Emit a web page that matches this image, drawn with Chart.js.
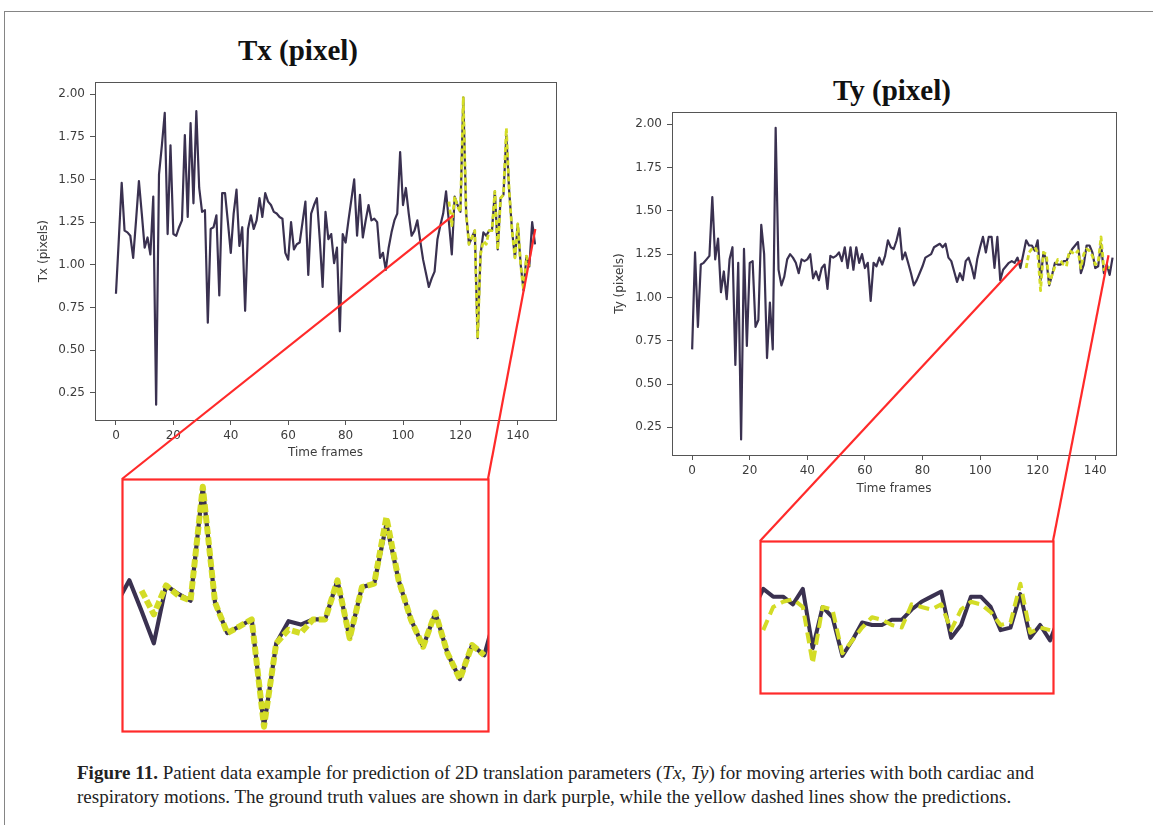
<!DOCTYPE html>
<html>
<head>
<meta charset="utf-8">
<title>Tx / Ty translation</title>
<script src="https://cdn.jsdelivr.net/npm/chart.js@4.4.0/dist/chart.umd.min.js"></script>
<style>
  body { margin:0; width:1153px; height:825px; overflow:hidden; background:#fff; position:relative; }
  .frame { position:absolute; left:4px; top:11px; width:1200px; height:900px; border:1.5px solid #858585; }
  canvas { position:absolute; }
  .ttl { position:absolute; font-family:"Liberation Serif", serif; font-weight:bold; font-size:29px; color:#111; transform:translateX(-50%); white-space:nowrap; line-height:1; }
  .cap { position:absolute; left:77px; top:761px; font-family:"Liberation Serif", serif; font-size:19px; line-height:24px; color:#222; white-space:nowrap; }
</style>
</head>
<body>
<div class="frame"></div>
<div class="ttl" style="left:298px;top:36px">Tx (pixel)</div>
<div class="ttl" style="left:892px;top:76px">Ty (pixel)</div>

<canvas id="txMain" width="560" height="394" style="left:33px;top:70px"></canvas>
<canvas id="tyMain" width="540" height="400" style="left:609px;top:100px"></canvas>
<canvas id="txZoom" width="374" height="260" style="left:118px;top:475px"></canvas>
<canvas id="tyZoom" width="301" height="160" style="left:756px;top:537px"></canvas>
<canvas id="links" width="1153" height="825" style="left:0;top:0;z-index:5;pointer-events:none"></canvas>

<div class="cap"><b>Figure 11.</b> Patient data example for prediction of 2D translation parameters (<i>Tx</i>, <i>Ty</i>) for moving arteries with both cardiac and<br>respiratory motions. The ground truth values are shown in dark purple, while the yellow dashed lines show the predictions.</div>

<script>
// ground truth, one value per frame (0..146)
var txTruth = [
  0.83, 1.15, 1.48, 1.20, 1.19, 1.17, 1.04, 1.26, 1.49, 1.30,
  1.10, 1.16, 1.06, 1.40, 0.18, 1.53, 1.70, 1.89, 1.18, 1.70,
  1.18, 1.17, 1.22, 1.26, 1.76, 1.28, 1.83, 1.36, 1.90, 1.45,
  1.31, 1.32, 0.66, 1.21, 1.22, 1.29, 0.82, 1.42, 1.42, 1.25,
  1.07, 1.30, 1.44, 1.11, 1.22, 0.73, 1.21, 1.29, 1.21, 1.26,
  1.39, 1.28, 1.42, 1.37, 1.35, 1.31, 1.30, 1.28, 1.27, 1.07,
  1.03, 1.25, 1.09, 1.12, 1.13, 1.25, 1.37, 0.94, 1.30, 1.35,
  1.39, 1.15, 0.87, 1.31, 1.15, 1.18, 1.01, 1.10, 0.61, 1.18,
  1.13, 1.26, 1.38, 1.50, 1.17, 1.41, 1.16, 1.26, 1.35, 1.26,
  1.27, 1.25, 1.04, 1.07, 0.97, 1.10, 1.19, 1.26, 1.30, 1.66,
  1.35, 1.45, 1.30, 1.17, 1.20, 1.26, 1.14, 1.03, 0.95, 0.87,
  0.92, 0.96, 1.15, 1.23, 1.30, 1.43, 1.25, 1.06, 1.40, 1.35,
  1.31, 1.98, 1.30, 1.12, 1.16, 1.20, 0.57, 1.06, 1.19, 1.17,
  1.20, 1.20, 1.43, 1.09, 1.39, 1.41, 1.76, 1.43, 1.20, 1.04,
  1.24, 1.00, 0.85, 1.05, 0.99, 1.25, 1.12
];
var tyTruth = [
  0.70, 1.26, 0.83, 1.19, 1.20, 1.22, 1.24, 1.58, 1.22, 1.34,
  1.03, 1.15, 0.99, 1.22, 1.29, 0.61, 1.20, 0.18, 1.28, 0.72,
  1.20, 1.21, 0.83, 0.87, 1.42, 1.25, 0.65, 0.97, 0.70, 1.98,
  1.16, 1.07, 1.12, 1.22, 1.25, 1.23, 1.20, 1.14, 1.22, 1.21,
  1.22, 1.25, 1.11, 1.15, 1.10, 1.17, 1.19, 1.05, 1.24, 1.23,
  1.24, 1.26, 1.21, 1.29, 1.17, 1.29, 1.16, 1.29, 1.20, 1.25,
  1.17, 1.20, 0.98, 1.20, 1.18, 1.23, 1.19, 1.24, 1.33, 1.29,
  1.28, 1.33, 1.40, 1.22, 1.26, 1.20, 1.14, 1.07, 1.10, 1.14,
  1.18, 1.23, 1.24, 1.25, 1.29, 1.30, 1.31, 1.29, 1.31, 1.23,
  1.21, 1.15, 1.09, 1.14, 1.10, 1.21, 1.23, 1.18, 1.11, 1.22,
  1.29, 1.35, 1.26, 1.35, 1.35, 1.17, 1.35, 1.10, 1.16, 1.18,
  1.20, 1.21, 1.20, 1.23, 1.17, 1.25, 1.33, 1.30, 1.30, 1.27,
  1.33, 1.10, 1.26, 1.22, 1.07, 1.13, 1.20, 1.19, 1.19, 1.21,
  1.21, 1.25, 1.28, 1.30, 1.32, 1.14, 1.19, 1.30, 1.30, 1.26,
  1.17, 1.18, 1.31, 1.14, 1.19, 1.13, 1.23
];

// network predictions, starting at frame predStart
var predStart = 116;
var txPred = [
  1.37, 1.23, 1.40, 1.34, 1.31, 1.98, 1.30, 1.12, 1.16, 1.20,
  0.57, 1.06, 1.14, 1.12, 1.20, 1.20, 1.43, 1.09, 1.39, 1.41,
  1.80, 1.43, 1.20, 1.04, 1.24, 1.00, 0.85, 1.05, 0.99
];
var tyPred = [
  1.17, 1.26, 1.28, 1.29, 1.26, 1.04, 1.26, 1.25, 1.08, 1.13,
  1.18, 1.22, 1.21, 1.19, 1.18, 1.27, 1.26, 1.25, 1.27, 1.17,
  1.25, 1.28, 1.27, 1.24, 1.19, 1.20, 1.35, 1.16, 1.18, 1.17
];

var xTicks = [0, 20, 40, 60, 80, 100, 120, 140];
var yTicks = [0.25, 0.50, 0.75, 1.00, 1.25, 1.50, 1.75, 2.00];

// zoomed windows: frame range and value range
var txWin = { x: [114.4, 144.3], y: [0.545, 2.025] };
var tyWin = { x: [115.67, 145.3], y: [0.926, 1.516] };
// where the red leader lines land on the main plots (frame, value)
var txAnchors = [[117.5, 1.29], [146.1, 1.21]];
var tyAnchors = [[114.2, 1.215], [144.6, 1.244]];

var PURPLE = '#3a3150';
var YELLOW = '#d3dc26';
var RED = '#ff2a2a';
var AXIS = '#555';

function pts(vals, start) {
  return vals.map(function(v, i){ return { x: start + i, y: v }; });
}

// draws a rectangle round the plotting area
function boxPlugin(color, width) {
  return {
    id: 'box',
    afterDraw: function(chart) {
      var a = chart.chartArea, ctx = chart.ctx;
      ctx.save();
      ctx.strokeStyle = color;
      ctx.lineWidth = width;
      ctx.strokeRect(Math.round(a.left) + 0.5, Math.round(a.top) + 0.5,
                     Math.round(a.right - a.left), Math.round(a.bottom - a.top));
      ctx.restore();
    }
  };
}

var tickFont = { family: 'DejaVu Sans', size: 12 };

function mainChart(id, truth, pred, yLabel, xRange, axisW, axisH, pad) {
  return new Chart(document.getElementById(id), {
    type: 'line',
    data: {
      datasets: [
        { data: pts(pred, predStart), borderColor: YELLOW, borderWidth: 2.8, borderDash: [5, 3], order: 0 },
        { data: pts(truth, 0), borderColor: PURPLE, borderWidth: 2.2, order: 1 }
      ]
    },
    options: {
      responsive: false,
      animation: false,
      layout: { padding: pad },
      elements: { point: { radius: 0 }, line: { tension: 0, fill: false, borderJoinStyle: 'round' } },
      plugins: { legend: { display: false }, tooltip: { enabled: false } },
      scales: {
        x: {
          type: 'linear', min: xRange[0], max: xRange[1],
          afterBuildTicks: function(s){ s.ticks = xTicks.map(function(v){ return { value: v }; }); },
          afterFit: function(s){ s.height = axisH; },
          ticks: { font: tickFont, color: '#3c3c3c', padding: 4, maxRotation: 0 },
          grid: { drawOnChartArea: false, drawTicks: true, tickLength: 5, color: AXIS },
          border: { display: true, color: AXIS },
          title: { display: true, text: 'Time frames', font: tickFont, color: '#3c3c3c', padding: 4 }
        },
        y: {
          min: 0.09, max: 2.07,
          afterBuildTicks: function(s){ s.ticks = yTicks.map(function(v){ return { value: v }; }); },
          afterFit: function(s){ s.width = axisW; },
          ticks: { font: tickFont, color: '#3c3c3c', padding: 5, callback: function(v){ return v.toFixed(2); } },
          grid: { drawOnChartArea: false, drawTicks: true, tickLength: 5, color: AXIS },
          border: { display: true, color: AXIS },
          title: { display: true, text: yLabel, font: tickFont, color: '#3c3c3c', padding: 4 }
        }
      }
    },
    plugins: [boxPlugin(AXIS, 1)]
  });
}

function zoomChart(id, truth, pred, win, dash, wTruth, wPred) {
  return new Chart(document.getElementById(id), {
    type: 'line',
    data: {
      datasets: [
        { data: pts(pred, predStart), borderColor: YELLOW, borderWidth: wPred, borderDash: dash, order: 0 },
        { data: pts(truth, 0), borderColor: PURPLE, borderWidth: wTruth, order: 1 }
      ]
    },
    options: {
      responsive: false,
      animation: false,
      layout: { padding: 4 },
      elements: { point: { radius: 0 }, line: { tension: 0, fill: false, borderJoinStyle: 'round' } },
      plugins: { legend: { display: false }, tooltip: { enabled: false } },
      scales: {
        x: { type: 'linear', display: false, min: win.x[0], max: win.x[1] },
        y: { display: false, min: win.y[0], max: win.y[1] }
      }
    },
    plugins: [boxPlugin(RED, 2.2)]
  });
}

var txMain = mainChart('txMain', txTruth, txPred, 'Tx (pixels)', [-7.3, 153.3], 62, 44, { top: 7, right: 37, left: 0, bottom: 0 });
var tyMain = mainChart('tyMain', tyTruth, tyPred, 'Ty (pixels)', [-7.0, 147.2], 63, 45, { top: 12, right: 33, left: 0, bottom: 0 });
var txZoom = zoomChart('txZoom', txTruth, txPred, txWin, [8, 3], 4.2, 6);
var tyZoom = zoomChart('tyZoom', tyTruth, tyPred, tyWin, [11, 6], 4, 4);

// red leader lines from the zoom boxes up to the plotted region
function pagePoint(chart, frame, value) {
  var c = chart.canvas;
  return [c.offsetLeft + chart.scales.x.getPixelForValue(frame),
          c.offsetTop + chart.scales.y.getPixelForValue(value)];
}
function drawLinks(main, zoom, anchors) {
  var ctx = document.getElementById('links').getContext('2d');
  var a = zoom.chartArea, c = zoom.canvas;
  var corners = [[c.offsetLeft + a.left, c.offsetTop + a.top], [c.offsetLeft + a.right, c.offsetTop + a.top]];
  ctx.strokeStyle = RED;
  ctx.lineWidth = 2.2;
  for (var i = 0; i < 2; i++) {
    var p = pagePoint(main, anchors[i][0], anchors[i][1]);
    ctx.beginPath();
    ctx.moveTo(corners[i][0], corners[i][1]);
    ctx.lineTo(p[0], p[1]);
    ctx.stroke();
  }
}
drawLinks(txMain, txZoom, txAnchors);
drawLinks(tyMain, tyZoom, tyAnchors);
</script>
</body>
</html>
